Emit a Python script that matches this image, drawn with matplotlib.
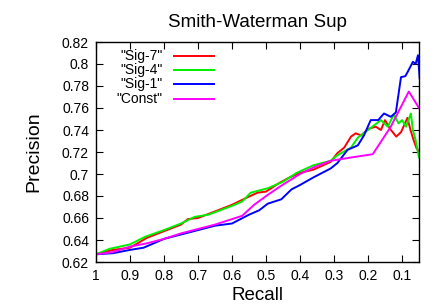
import matplotlib
matplotlib.use("Agg")
import matplotlib.pyplot as plt

plt.rcParams['font.family'] = ['Liberation Sans', 'DejaVu Sans']

title = "Smith-Waterman Sup"
x_ticks = [1, 0.9, 0.8, 0.7, 0.6, 0.5, 0.4, 0.3, 0.2, 0.1]
y_ticks = [0.62, 0.64, 0.66, 0.68, 0.70, 0.72, 0.74, 0.76, 0.78, 0.80, 0.82]

sig7_r = [1, 0.95, 0.9, 0.85, 0.8, 0.75, 0.73, 0.7, 0.65, 0.6, 0.56, 0.525, 0.5, 0.46, 0.43,
          0.4, 0.36, 0.31, 0.29, 0.27, 0.25, 0.236, 0.22, 0.2, 0.177, 0.162, 0.15, 0.135, 0.117,
          0.103, 0.084, 0.075, 0.066, 0.058, 0.05]
sig7_p = [0.627, 0.631, 0.633, 0.642, 0.648, 0.654, 0.659, 0.660, 0.666, 0.672, 0.678, 0.683, 0.684, 0.692, 0.697,
          0.701, 0.704, 0.711, 0.719, 0.724, 0.734, 0.737, 0.735, 0.741, 0.743, 0.740, 0.749, 0.741, 0.734,
          0.738, 0.751, 0.740, 0.731, 0.724, 0.720]

sig4_r = [1, 0.96, 0.93, 0.9, 0.855, 0.8, 0.75, 0.71, 0.67, 0.6, 0.57, 0.545, 0.495, 0.45, 0.41,
          0.36, 0.31, 0.29, 0.25, 0.23, 0.2, 0.162, 0.142, 0.124, 0.11, 0.1, 0.088, 0.074, 0.068,
          0.06, 0.05]
sig4_p = [0.627, 0.632, 0.634, 0.636, 0.643, 0.649, 0.655, 0.661, 0.663, 0.671, 0.675, 0.683, 0.687, 0.693, 0.701,
          0.708, 0.712, 0.717, 0.724, 0.733, 0.740, 0.749, 0.743, 0.754, 0.746, 0.749, 0.743, 0.755, 0.740,
          0.731, 0.715]

sig1_r = [1, 0.95, 0.9, 0.86, 0.8, 0.75, 0.7, 0.65, 0.6, 0.55, 0.52, 0.495, 0.455, 0.425, 0.4,
          0.36, 0.31, 0.29, 0.26, 0.23, 0.212, 0.192, 0.17, 0.153, 0.133, 0.118, 0.103, 0.09, 0.083,
          0.068, 0.06, 0.053, 0.048]
sig1_p = [0.627, 0.628, 0.631, 0.633, 0.641, 0.645, 0.649, 0.653, 0.655, 0.663, 0.667, 0.673, 0.677, 0.686, 0.690,
          0.697, 0.705, 0.710, 0.722, 0.726, 0.735, 0.749, 0.749, 0.755, 0.752, 0.756, 0.788, 0.789, 0.793,
          0.802, 0.800, 0.808, 0.787]

const_r = [1, 0.95, 0.9, 0.85, 0.8, 0.75, 0.7, 0.65, 0.6, 0.57, 0.535, 0.495, 0.457, 0.4, 0.36,
           0.31, 0.25, 0.186, 0.133, 0.08, 0.05]
const_p = [0.627, 0.629, 0.634, 0.637, 0.641, 0.646, 0.650, 0.654, 0.659, 0.662, 0.672, 0.681, 0.689, 0.700, 0.706,
           0.712, 0.715, 0.718, 0.743, 0.775, 0.760]

series = [('"Sig-7"', sig7_r, sig7_p, '#ff0000'),
          ('"Sig-4"', sig4_r, sig4_p, '#00ee00'),
          ('"Sig-1"', sig1_r, sig1_p, '#0000ff'),
          ('"Const"', const_r, const_p, '#ff00ff')]

fig = plt.figure(figsize=(4.41, 3.08), dpi=100)
ax = fig.add_axes([96/441, 46/308, 323/441, 220/308])

for name, r, p, c in series:
    ax.plot(r, p, color=c, lw=1.4, clip_on=True)

ax.set_xlim(1, 0.05)
ax.set_ylim(0.62, 0.82)
ax.set_xticks(x_ticks)
ax.set_xticklabels([f"{v:g}" for v in x_ticks])
ax.set_yticks(y_ticks)
ax.set_yticklabels([f"{v:g}" for v in y_ticks])
ax.tick_params(direction='in', top=True, right=True, length=5, width=0.8, labelsize=10, pad=5)
for s in ax.spines.values():
    s.set_linewidth(1.0)

ax.set_title(title, fontsize=13.5, pad=11)
ax.set_xlabel("Recall", fontsize=13.5, labelpad=3)
ax.set_ylabel("Precision", fontsize=14, labelpad=14)

# legend (gnuplot style: text right-aligned, sample line to the right)
row_y = [0.938, 0.873, 0.809, 0.741]
for (name, r, p, c), yy in zip(series, row_y):
    ax.text(0.207, yy, name, transform=ax.transAxes, ha='right', va='center', fontsize=10)
    ax.plot([0.24, 0.365], [yy, yy], transform=ax.transAxes, color=c, lw=1.4)

fig.savefig("out.png", dpi=100)
